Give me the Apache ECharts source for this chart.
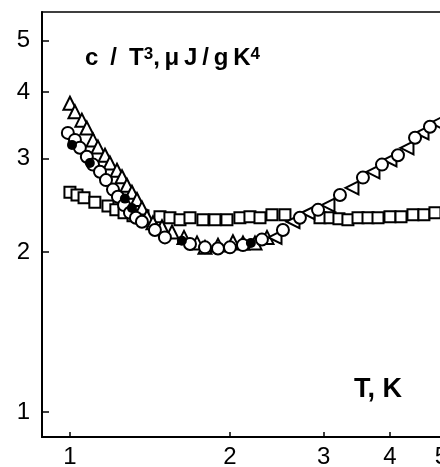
<!DOCTYPE html>
<html>
<head>
<meta charset="utf-8">
<script src="https://cdn.jsdelivr.net/npm/echarts@6/dist/echarts.min.js"></script>
<style>
  html, body { margin: 0; padding: 0; background: #fff; }
  #chart { width: 440px; height: 467px; }
</style>
</head>
<body>
<div id="chart"></div>
<script>
// T in K, c/T^3 in uJ/gK^4
const tickValues = [1, 2, 3, 4, 5];

const triUpT = [1.00, 1.022, 1.053, 1.076, 1.105, 1.129, 1.164, 1.189, 1.226, 1.253, 1.280, 1.308, 1.337, 1.366, 1.396, 1.433, 1.490, 1.556, 1.639, 1.734, 1.795, 1.899, 2.026, 2.116, 2.229, 2.348];
const triUpC = [3.81, 3.67, 3.54, 3.42, 3.25, 3.15, 3.04, 2.94, 2.85, 2.77, 2.67, 2.59, 2.51, 2.42, 2.33, 2.27, 2.23, 2.18, 2.13, 2.08, 2.04, 2.06, 2.09, 2.08, 2.08, 2.13];

const triLeftT = [2.431, 2.628, 2.804, 3.058, 3.393, 3.716, 4.000, 4.306, 4.596, 4.903];
const triLeftC = [2.13, 2.28, 2.37, 2.45, 2.64, 2.83, 2.98, 3.14, 3.35, 3.50];

const circT = [0.991, 1.022, 1.044, 1.076, 1.105, 1.139, 1.169, 1.205, 1.231, 1.264, 1.297, 1.331, 1.366, 1.445, 1.509, 1.682, 1.795, 1.899, 2.000, 2.116, 2.297,
  2.516, 2.708, 2.929, 3.221, 3.558, 3.864, 4.141, 4.459, 4.757];
const circC = [3.35, 3.25, 3.14, 3.02, 2.92, 2.83, 2.73, 2.62, 2.54, 2.45, 2.37, 2.32, 2.28, 2.20, 2.13, 2.07, 2.04, 2.03, 2.04, 2.06, 2.11,
  2.20, 2.32, 2.40, 2.56, 2.76, 2.92, 3.04, 3.28, 3.44];

const dotT = [1.009, 1.090, 1.269, 1.308, 1.624, 2.190];
const dotC = [3.18, 2.94, 2.52, 2.42, 2.10, 2.08];

const sqT = [1.000, 1.031, 1.063, 1.114, 1.179, 1.220, 1.264, 1.314, 1.372, 1.477, 1.542, 1.611, 1.682, 1.779, 1.874, 1.974, 2.088, 2.181, 2.278, 2.399, 2.538,
  2.954, 3.085, 3.207, 3.334, 3.483, 3.637, 3.798, 4.000, 4.196, 4.419, 4.634, 4.861];
const sqC = [2.59, 2.56, 2.53, 2.48, 2.44, 2.40, 2.37, 2.34, 2.34, 2.33, 2.32, 2.30, 2.32, 2.30, 2.30, 2.30, 2.32, 2.33, 2.32, 2.35, 2.35,
  2.32, 2.32, 2.31, 2.30, 2.32, 2.32, 2.32, 2.33, 2.33, 2.35, 2.35, 2.37];

const zip = (xs, ys) => xs.map((x, i) => [x, ys[i]]);

const openStyle = { color: '#fff', borderColor: '#000', borderWidth: 2, opacity: 1 };

const chart = echarts.init(document.getElementById('chart'));

chart.setOption({
  animation: false,
  backgroundColor: '#fff',
  textStyle: { fontFamily: 'Liberation Sans' },
  grid: {
    left: 42, top: 12, right: -5, bottom: 30,
    outerBoundsMode: 'none',
    show: true, borderColor: '#000', borderWidth: 1.5,
  },
  title: [
    {
      left: 80, top: 41,
      text: '{a|c\u2002/\u2002T}{s|3}{a|,\u2009\u03bc\u2009J\u2009/\u2009g\u2009K}{s|4}',
      textStyle: {
        rich: {
          a: { fontSize: 24, fontWeight: 'bold', color: '#000', fontFamily: 'Liberation Sans', verticalAlign: 'bottom' },
          s: { fontSize: 17, fontWeight: 'bold', color: '#000', fontFamily: 'Liberation Sans', verticalAlign: 'top' },
        },
      },
    },
    {
      left: 349, top: 371,
      text: 'T, K',
      textStyle: { fontSize: 27, fontWeight: 'bold', color: '#000', fontFamily: 'Liberation Sans' },
    },
  ],
  xAxis: {
    type: 'log',
    min: 0.886,
    max: 5.077,
    axisLine: { lineStyle: { color: '#000', width: 2 } },
    axisTick: { inside: true, length: 5, customValues: tickValues, lineStyle: { color: '#000', width: 1.5 } },
    axisLabel: { customValues: tickValues, margin: 8, fontSize: 24, color: '#000' },
    splitLine: { show: false },
    minorTick: { show: false },
  },
  yAxis: {
    type: 'log',
    min: 0.897,
    max: 5.656,
    axisLine: { lineStyle: { color: '#000', width: 2 } },
    axisTick: { inside: true, length: 7, customValues: tickValues, lineStyle: { color: '#000', width: 1.5 } },
    axisLabel: { customValues: tickValues, margin: 12, fontSize: 24, color: '#000' },
    splitLine: { show: false },
  },
  series: [
    {
      type: 'scatter', name: 'squares', symbol: 'rect', symbolSize: 11,
      itemStyle: openStyle, data: zip(sqT, sqC),
    },
    {
      type: 'scatter', name: 'triangles', symbol: 'triangle', symbolSize: 13,
      itemStyle: openStyle, data: zip(triUpT, triUpC),
    },
    {
      type: 'scatter', name: 'triangles left', symbol: 'triangle', symbolSize: 13, symbolRotate: 90,
      itemStyle: openStyle, data: zip(triLeftT, triLeftC),
    },
    {
      type: 'scatter', name: 'circles', symbol: 'circle', symbolSize: 12,
      itemStyle: openStyle, data: zip(circT, circC),
    },
    {
      type: 'scatter', name: 'filled', symbol: 'circle', symbolSize: 10,
      itemStyle: { color: '#000', opacity: 1 }, data: zip(dotT, dotC),
    },
  ],
});
</script>
</body>
</html>
